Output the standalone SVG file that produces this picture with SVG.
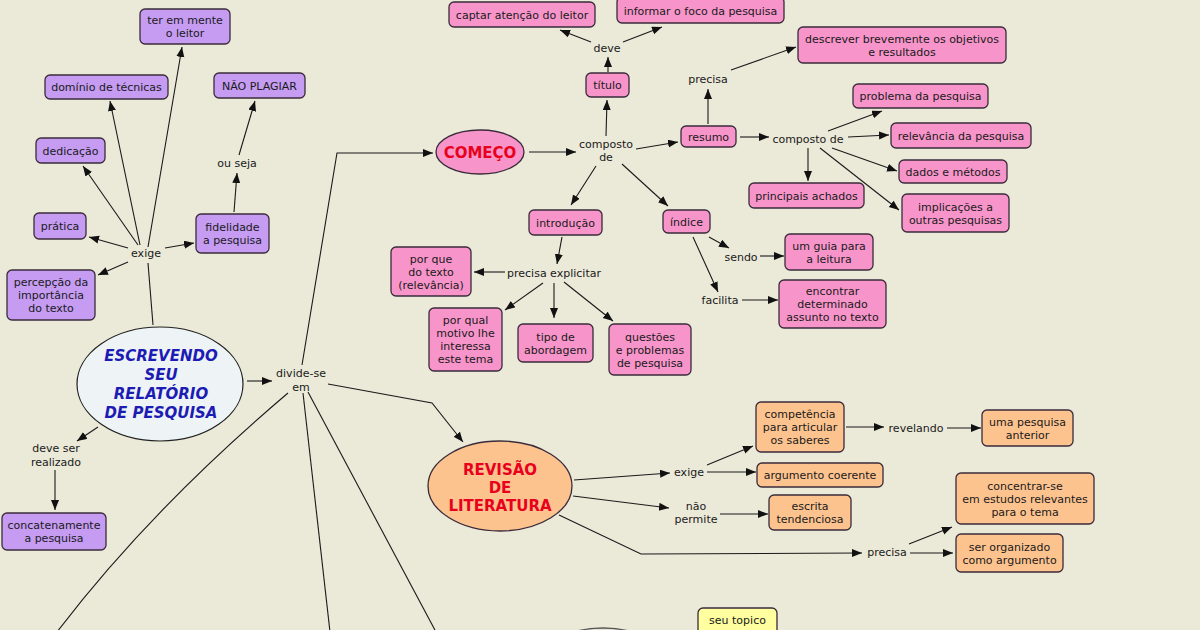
<svg xmlns="http://www.w3.org/2000/svg" width="1200" height="630" viewBox="0 0 1200 630">
<defs>
<marker id="ah" markerUnits="userSpaceOnUse" markerWidth="11" markerHeight="9" refX="10" refY="4" orient="auto"><path d="M0,0 L10,4 L0,8 z" fill="#111"/></marker>
<style>
text{font-family:"DejaVu Sans",Verdana,sans-serif;font-size:11px;fill:#1a1a1a;text-anchor:middle}
.c path{fill:none;stroke:#1a1a1a;stroke-width:1.1}
.c .a{marker-end:url(#ah)}
.pu{fill:#C59CF2;stroke:#3a2b3a;stroke-width:1.3}
.pk{fill:#F795CA;stroke:#3a2b3a;stroke-width:1.3}
.or{fill:#FDC38F;stroke:#3a2b3a;stroke-width:1.3}
.ye{fill:#FFFFA0;stroke:#3a2b3a;stroke-width:1.3}
.big{font-weight:bold;font-size:15px;fill:#E8001C}
.main{font-weight:bold;font-style:italic;font-size:15px;fill:#1C1CB4}
</style>
</defs>
<rect width="1200" height="630" fill="#EBE9D8"/>
<g class="c" id="connectors">
<path d="M153,325 L148,263"/>
<path class="a" d="M148,247 L182,47"/>
<path class="a" d="M140,245 L110,101"/>
<path class="a" d="M138,245 L83,166"/>
<path class="a" d="M128,248 L89,237"/>
<path class="a" d="M165,248 L194,243"/>
<path class="a" d="M128,262 L98,275"/>
<path class="a" d="M234,212 L237,173"/>
<path class="a" d="M239,155 L255,101"/>
<path class="a" d="M98,427 L77,441"/>
<path class="a" d="M55,470 L55,510"/>
<path class="a" d="M247,381 L272,381"/>
<path class="a" d="M302,365 L337,153 L433,153"/>
<path class="a" d="M328,384 L432,403 L463,442"/>
<path d="M288,393 Q150,510 57,632"/>
<path d="M303,393 L330,632"/>
<path d="M308,392 L436,632"/>
<path class="a" d="M529,152 L576,152"/>
<path class="a" d="M606,136 L607,100"/>
<path class="a" d="M608,72 L608,57"/>
<path class="a" d="M591,42 L560,30"/>
<path class="a" d="M623,42 L662,27"/>
<path class="a" d="M636,149 L678,142"/>
<path class="a" d="M708,124 L708,89"/>
<path class="a" d="M731,70 L796,47"/>
<path class="a" d="M740,137 L769,137"/>
<path class="a" d="M828,131 L882,111"/>
<path class="a" d="M848,137 L889,135"/>
<path class="a" d="M832,148 L897,171"/>
<path class="a" d="M808,148 L808,181"/>
<path class="a" d="M820,148 L899,210"/>
<path class="a" d="M596,166 L571,205"/>
<path class="a" d="M622,164 L668,206"/>
<path class="a" d="M562,237 L557,264"/>
<path class="a" d="M505,272 L474,272"/>
<path class="a" d="M543,283 L505,310"/>
<path class="a" d="M554,283 L554,318"/>
<path class="a" d="M564,282 L613,321"/>
<path class="a" d="M709,237 L729,248"/>
<path class="a" d="M760,256 L784,256"/>
<path class="a" d="M693,237 L718,292"/>
<path class="a" d="M742,300 L778,300"/>
<path class="a" d="M574,480 L670,473"/>
<path class="a" d="M573,496 L669,508"/>
<path class="a" d="M559,515 L641,554 L862,553"/>
<path class="a" d="M707,465 L753,446"/>
<path class="a" d="M707,472 L756,472"/>
<path class="a" d="M846,427 L884,427"/>
<path class="a" d="M947,428 L981,428"/>
<path class="a" d="M720,514 L768,514"/>
<path class="a" d="M909,544 L952,527"/>
<path class="a" d="M910,553 L953,553"/>
</g>

<g id="n-main"><ellipse cx="160" cy="384" rx="83" ry="57" fill="#EEF3F5" stroke="#222" stroke-width="1.2"/>
<text class="main" x="161" y="361">ESCREVENDO</text><text class="main" x="161" y="380">SEU</text><text class="main" x="161" y="399">RELATÓRIO</text><text class="main" x="161" y="418">DE PESQUISA</text></g>

<g id="n-ter"><rect class="pu" x="140" y="9" width="90" height="35" rx="5"/><text x="185" y="24">ter em mente</text><text x="185" y="37">o leitor</text></g>
<g id="n-dominio"><rect class="pu" x="45" y="75" width="123" height="24" rx="5"/><text x="106.5" y="91">domínio de técnicas</text></g>
<g id="n-plagiar"><rect class="pu" x="214" y="73" width="91" height="25" rx="5"/><text x="259.5" y="89.5">NÃO PLAGIAR</text></g>
<g id="n-dedicacao"><rect class="pu" x="36" y="138" width="69" height="25" rx="5"/><text x="70.5" y="154.5">dedicação</text></g>
<g id="n-pratica"><rect class="pu" x="34" y="213" width="52" height="26" rx="5"/><text x="60" y="230">prática</text></g>
<g id="n-fidelidade"><rect class="pu" x="196" y="214" width="73" height="39" rx="5"/><text x="232.5" y="231">fidelidade</text><text x="232.5" y="244">a pesquisa</text></g>
<g id="n-percepcao"><rect class="pu" x="7" y="270" width="88" height="50" rx="5"/><text x="51" y="286">percepção da</text><text x="51" y="299">importância</text><text x="51" y="312">do texto</text></g>
<g id="n-concat"><rect class="pu" x="2" y="513" width="104" height="37" rx="5"/><text x="54" y="529">concatenamente</text><text x="54" y="542">a pesquisa</text></g>

<g id="l-exige1"><text x="146" y="257">exige</text></g>
<g id="l-ouseja"><text x="237" y="167">ou seja</text></g>
<g id="l-deveser"><text x="56" y="452">deve ser</text><text x="56" y="466">realizado</text></g>
<g id="l-divide"><text x="301" y="377">divide-se</text><text x="301" y="391">em</text></g>

<g id="n-comeco"><ellipse class="pk" cx="480" cy="152" rx="44" ry="22"/><text class="big" x="480" y="157.5">COMEÇO</text></g>
<g id="n-captar"><rect class="pk" x="449" y="2" width="146" height="25" rx="5"/><text x="522" y="18.5">captar atenção do leitor</text></g>
<g id="n-informar"><rect class="pk" x="617" y="-3" width="167" height="26" rx="5"/><text x="700.5" y="15">informar o foco da pesquisa</text></g>
<g id="n-titulo"><rect class="pk" x="586" y="73" width="43" height="24" rx="5"/><text x="607.5" y="89">título</text></g>
<g id="n-resumo"><rect class="pk" x="681" y="126" width="55" height="21" rx="5"/><text x="708.5" y="140.5">resumo</text></g>
<g id="n-descrever"><rect class="pk" x="798" y="27" width="208" height="36" rx="5"/><text x="902" y="42.5">descrever brevemente os objetivos</text><text x="902" y="55.5">e resultados</text></g>
<g id="n-problema"><rect class="pk" x="853" y="84" width="135" height="24" rx="5"/><text x="920.5" y="100">problema da pesquisa</text></g>
<g id="n-relevancia"><rect class="pk" x="891" y="123" width="140" height="25" rx="5"/><text x="961" y="139.5">relevância da pesquisa</text></g>
<g id="n-dados"><rect class="pk" x="899" y="160" width="108" height="23" rx="5"/><text x="953" y="175.5">dados e métodos</text></g>
<g id="n-principais"><rect class="pk" x="749" y="183" width="115" height="25" rx="5"/><text x="806.5" y="199.5">principais achados</text></g>
<g id="n-implicacoes"><rect class="pk" x="902" y="194" width="107" height="38" rx="5"/><text x="955.5" y="210.5">implicações a</text><text x="955.5" y="223.5">outras pesquisas</text></g>
<g id="n-indice"><rect class="pk" x="663" y="210" width="47" height="23" rx="5"/><text x="686.5" y="225.5">índice</text></g>
<g id="n-introducao"><rect class="pk" x="529" y="210" width="73" height="25" rx="5"/><text x="565.5" y="226.5">introdução</text></g>
<g id="n-porque"><rect class="pk" x="391" y="247" width="80" height="49" rx="5"/><text x="431" y="262.5">por que</text><text x="431" y="275.5">do texto</text><text x="431" y="288.5">(relevância)</text></g>
<g id="n-porqual"><rect class="pk" x="429" y="308" width="73" height="63" rx="5"/><text x="465.5" y="324">por qual</text><text x="465.5" y="337">motivo lhe</text><text x="465.5" y="350">interessa</text><text x="465.5" y="363">este tema</text></g>
<g id="n-tipo"><rect class="pk" x="518" y="324" width="75" height="38" rx="5"/><text x="555.5" y="340.5">tipo de</text><text x="555.5" y="353.5">abordagem</text></g>
<g id="n-questoes"><rect class="pk" x="609" y="324" width="82" height="51" rx="5"/><text x="650" y="340.5">questões</text><text x="650" y="353.5">e problemas</text><text x="650" y="366.5">de pesquisa</text></g>
<g id="n-guia"><rect class="pk" x="785" y="234" width="88" height="36" rx="5"/><text x="829" y="249.5">um guia para</text><text x="829" y="262.5">a leitura</text></g>
<g id="n-encontrar"><rect class="pk" x="779" y="280" width="107" height="48" rx="5"/><text x="832.5" y="295">encontrar</text><text x="832.5" y="308">determinado</text><text x="832.5" y="321">assunto no texto</text></g>

<g id="l-deve"><text x="607" y="52">deve</text></g>
<g id="l-composto1"><text x="606" y="148">composto</text><text x="606" y="161">de</text></g>
<g id="l-precisa1"><text x="708" y="83">precisa</text></g>
<g id="l-composto2"><text x="808" y="143">composto de</text></g>
<g id="l-explicitar"><text x="554" y="277">precisa explicitar</text></g>
<g id="l-sendo"><text x="741" y="261">sendo</text></g>
<g id="l-facilita"><text x="720" y="304">facilita</text></g>

<g id="n-revisao"><ellipse class="or" cx="500" cy="486" rx="72" ry="45"/><text class="big" x="500" y="475">REVISÃO</text><text class="big" x="500" y="493">DE</text><text class="big" x="500" y="511">LITERATURA</text></g>
<g id="n-competencia"><rect class="or" x="756" y="402" width="88" height="50" rx="5"/><text x="800" y="418">competência</text><text x="800" y="431">para articular</text><text x="800" y="444">os saberes</text></g>
<g id="n-anterior"><rect class="or" x="982" y="410" width="91" height="36" rx="5"/><text x="1027.5" y="425.5">uma pesquisa</text><text x="1027.5" y="438.5">anterior</text></g>
<g id="n-argumento"><rect class="or" x="757" y="463" width="126" height="24" rx="5"/><text x="820" y="479">argumento coerente</text></g>
<g id="n-escrita"><rect class="or" x="769" y="495" width="82" height="35" rx="5"/><text x="810" y="510">escrita</text><text x="810" y="523">tendenciosa</text></g>
<g id="n-concentrar"><rect class="or" x="956" y="473" width="138" height="51" rx="5"/><text x="1025" y="489.5">concentrar-se</text><text x="1025" y="502.5">em estudos relevantes</text><text x="1025" y="515.5">para o tema</text></g>
<g id="n-organizado"><rect class="or" x="956" y="534" width="107" height="38" rx="5"/><text x="1009.5" y="550.5">ser organizado</text><text x="1009.5" y="563.5">como argumento</text></g>

<g id="l-exige2"><text x="689" y="476">exige</text></g>
<g id="l-naopermite"><text x="696" y="510">não</text><text x="696" y="523">permite</text></g>
<g id="l-revelando"><text x="916" y="432">revelando</text></g>
<g id="l-precisa2"><text x="887" y="556">precisa</text></g>

<g id="n-bottom"><ellipse cx="603" cy="662" rx="62" ry="34" fill="#E4E2D2" stroke="#555" stroke-width="1.3"/></g>
<g id="n-topico"><rect class="ye" x="698" y="608" width="79" height="36" rx="5"/><text x="737.5" y="624">seu topico</text></g>
</svg>
